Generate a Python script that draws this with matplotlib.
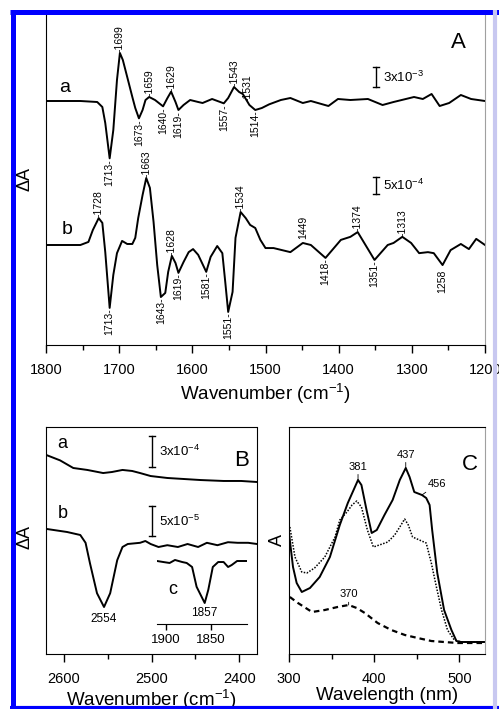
import numpy as np
import matplotlib
matplotlib.use('Agg')
import matplotlib.pyplot as plt
from matplotlib.lines import Line2D

plt.rcParams['font.family'] = ['Liberation Sans', 'DejaVu Sans']
plt.rcParams['mathtext.fontset'] = 'custom'
plt.rcParams['mathtext.rm'] = 'Liberation Sans'
plt.rcParams['mathtext.default'] = 'regular'

# ---- Panel A: FTIR difference spectra, 1800-1200 cm-1 ----
a_wn = [1800, 1753, 1730, 1723, 1719, 1713, 1708, 1703, 1699, 1695, 1689, 1682, 1678,
        1673, 1668, 1664, 1659, 1651, 1640, 1634, 1629, 1623, 1619, 1612, 1603, 1592,
        1586, 1573, 1557, 1551, 1543, 1536, 1531, 1522, 1514, 1505, 1495, 1479, 1466,
        1449, 1438, 1414, 1401, 1384, 1360, 1340, 1325, 1297, 1285, 1273, 1262, 1249,
        1233, 1219, 1200]
a_dA = [0, 0, -0.15, -0.9, -3.3, -8.6, -4.35, 3.15, 7.2, 6.15, 3.6, 0.6, -1.05,
        -2.6, -1.35, 0.15, 0.6, 0.15, -0.8, 0.45, 1.4, -0.15, -1.35, -0.6, 0.15, -0.15,
        -0.3, 0.3, -0.35, 0.45, 2.1, 1.35, 1.05, -0.6, -1.35, -1.05, -0.5, 0.15, 0.45,
        -0.3, 0, -0.75, 0.3, 0.15, 0.3, -0.6, -0.15, 0.6, 0.3, 1.05, -0.75, -0.3,
        0.9, 0.3, 0]  # x1e-3

b_wn = [1800, 1753, 1742, 1736, 1728, 1723, 1719, 1713, 1708, 1703, 1696, 1689, 1682,
        1678, 1674, 1668, 1663, 1658, 1653, 1648, 1643, 1637, 1633, 1628, 1623, 1619,
        1612, 1605, 1599, 1592, 1581, 1575, 1566, 1559, 1555, 1551, 1545, 1541, 1534,
        1527, 1521, 1514, 1507, 1500, 1489, 1466, 1449, 1438, 1418, 1397, 1384, 1374,
        1351, 1333, 1325, 1313, 1301, 1290, 1278, 1270, 1258, 1247, 1233, 1222, 1212, 1200]
b_dA = [0, 0, 0.9, 4.4, 7.9, 6.5, -2.1, -18.5, -8.8, -2.4, 1.2, 0.3, 0.3,
        2.1, 7.9, 14.7, 19.7, 16.8, 6.8, -5.9, -15.3, -14.1, -7.9, -3.2, -5.3, -8.2,
        -5.0, -2.1, -1.2, -2.9, -7.9, -3.5, -0.3, -2.4, -10.9, -19.7, -13.8, 2.1, 9.7,
        7.9, 5.9, 5.0, 1.5, -0.9, -0.9, -2.1, 0.6, 0, -3.8, 1.5, 2.4, 3.8,
        -4.4, 0, 0.6, 2.4, 0.6, -2.4, -2.1, -2.4, -5.9, -1.5, 0.3, -1.2, 1.8, 0]  # x1e-4

# band labels: (text value, position on the axis)
a_peaks = [(1699, 1699), (1659, 1659), (1629, 1629), (1543, 1543), (1531, 1525)]
a_mins = [(1713, 1713), (1673, 1673), (1640, 1640), (1619, 1619), (1557, 1557), (1514, 1514)]
b_peaks = [(1728, 1728), (1663, 1663), (1628, 1628), (1534, 1534), (1374, 1374), (1313, 1313)]
b_mins = [(1713, 1713), (1643, 1643), (1619, 1619), (1581, 1581), (1551, 1551),
          (1418, 1418), (1351, 1351)]
b_peaks_plain = [1449]
b_mins_plain = [1258]

# ---- Panel B: 2620-2380 cm-1 region + inset c ----
Ba_wn = [2619, 2604, 2589, 2573, 2561, 2555, 2545, 2533, 2522, 2513, 2501, 2482, 2463,
         2444, 2418, 2398, 2380]
Ba_dA = [2.6, 2.1, 1.36, 1.17, 0.97, 0.87, 0.97, 1.17, 1.07, 0.87, 0.58, 0.39, 0.29,
         0.19, 0.1, 0.1, 0]  # x1e-4
Bb_wn = [2619, 2596, 2581, 2575, 2570, 2562, 2554, 2547, 2539, 2533, 2527, 2513, 2507,
         2501, 2492, 2482, 2470, 2459, 2447, 2437, 2425, 2413, 2402, 2390, 2380]
Bb_dA = [2.5, 2.0, 1.5, 0.2, -3.2, -8.2, -10.5, -8.2, -2.7, -0.5, 0, 0.2, 0.5,
         0, -0.5, -0.2, -0.5, 0, -0.5, 0.2, -0.2, 0.3, 0.2, 0.2, 0]  # x1e-5
c_wn = [1910, 1903, 1896, 1890, 1882, 1877, 1871, 1866, 1857, 1853, 1848, 1842, 1836,
        1831, 1827, 1821, 1816, 1810]
c_dA = [0, -0.17, -0.33, 0.17, -0.17, -0.33, -1.0, -4.3, -7.0, -4.8, -1.0, -0.17, -0.17,
        -1.0, -0.67, 0, 0, 0]  # x1e-5

# ---- Panel C: UV-vis ----
solid_wl = [300, 304.7, 309, 315, 324.6, 336, 348, 359.6, 369, 381, 385, 391, 397, 403,
            412, 421.6, 430, 437, 441.5, 447, 456, 461, 465, 468, 474, 482, 490.6, 496.5,
            502, 530]
solid_A = [0.555, 0.385, 0.305, 0.26, 0.28, 0.335, 0.435, 0.595, 0.705, 0.82, 0.795, 0.67,
           0.555, 0.57, 0.645, 0.72, 0.82, 0.88, 0.835, 0.76, 0.745, 0.73, 0.695, 0.57,
           0.355, 0.17, 0.07, 0.015, 0.01, 0.01]
dot_wl = [301, 307, 315, 321, 330, 342, 354, 359.6, 368, 374, 379.5, 385, 392, 399, 406,
          416, 424, 430, 435.7, 440, 445, 453, 461, 467, 473, 479, 486, 494, 502, 530]
dot_A = [0.585, 0.435, 0.36, 0.355, 0.38, 0.435, 0.535, 0.62, 0.66, 0.695, 0.715, 0.685,
         0.57, 0.485, 0.495, 0.51, 0.545, 0.585, 0.625, 0.595, 0.535, 0.52, 0.505, 0.405,
         0.285, 0.17, 0.07, 0.02, 0.01, 0.01]
dash_wl = [301, 310.5, 327, 342, 357, 370, 379.5, 389, 404, 420, 436, 451, 467, 482, 498, 530]
dash_A = [0.235, 0.205, 0.16, 0.17, 0.185, 0.195, 0.18, 0.155, 0.105, 0.07, 0.045, 0.03,
          0.015, 0.01, 0.005, 0.005]

W, H = 499, 709
fig = plt.figure(figsize=(W / 100, H / 100), dpi=100)


def px_axes(l, t, r, b):
    return fig.add_axes([l / W, 1 - b / H, (r - l) / W, (b - t) / H])


def interp(x, xs, ys):
    xs = np.asarray(xs, float)
    ys = np.asarray(ys, float)
    order = np.argsort(xs)
    return np.interp(x, xs[order], ys[order])


LW = 1.4
TICKFS = 10.5
LBLFS = 7.5
TPAD = 7

# ---------------- Panel A ----------------
axA = px_axes(46, 13, 485, 345)
axA.set_xlim(1800, 1200)
axA.set_ylim(0, 332)
ya = 244 + 6.67 * np.array(a_dA)
yb = 100 + 3.4 * np.array(b_dA)
axA.plot(a_wn, ya, color='black', lw=LW)
axA.plot(b_wn, yb, color='black', lw=LW)


def band_label(ax, text, x, y, above, dy=0.5):
    ax.annotate(text, (x, y), xytext=(0, dy if above else -dy), textcoords='offset points',
                rotation=90, ha='center', va='bottom' if above else 'top', fontsize=LBLFS)


for v, pos in a_peaks:
    band_label(axA, '-%d' % v, pos, interp(pos, a_wn, ya), True)
for v, pos in a_mins:
    band_label(axA, '%d-' % v, pos, interp(pos, a_wn, ya), False)
for v, pos in b_peaks:
    band_label(axA, '-%d' % v, pos, interp(pos, b_wn, yb), True)
for v, pos in b_mins:
    band_label(axA, '%d-' % v, pos, interp(pos, b_wn, yb), False)
for v in b_peaks_plain:
    band_label(axA, '%d' % v, v, interp(v, b_wn, yb), True, dy=3)
for v in b_mins_plain:
    band_label(axA, '%d' % v, v, interp(v, b_wn, yb), False, dy=3)


def scalebar(ax, x, y0, length, cap, text, fs=9.5):
    ax.plot([x, x], [y0, y0 + length], color='black', lw=1)
    ax.plot([x - cap, x + cap], [y0, y0], color='black', lw=1)
    ax.plot([x - cap, x + cap], [y0 + length, y0 + length], color='black', lw=1)
    ax.text(x - 2.2 * cap, y0 + length / 2, text, ha='left', va='center', fontsize=fs)


scalebar(axA, 1349, 258, 6.67 * 3, 4.5, r'3x10$^{-3}$')
scalebar(axA, 1349, 151, 3.4 * 5, 4.5, r'5x10$^{-4}$')

axA.text(1774, 257, 'a', fontsize=14, ha='center', va='center')
axA.text(1771, 115, 'b', fontsize=14, ha='center', va='center')
axA.text(1237, 302, 'A', fontsize=16, ha='center', va='center')

axA.set_xticks([1800, 1700, 1600, 1500, 1400, 1300, 1200])
axA.set_xticks([1750, 1650, 1550, 1450, 1350, 1250], minor=True)
axA.set_yticks([])
axA.tick_params(axis='x', which='major', direction='out', length=6, width=1,
                labelsize=TICKFS, pad=TPAD)
axA.tick_params(axis='x', which='minor', direction='out', length=3.5, width=1)
axA.spines['top'].set_visible(False)
axA.spines['right'].set_color('#a0a0a0')
axA.set_xlabel(r'Wavenumber (cm$^{-1}$)', fontsize=13.5, labelpad=3.5)

# ---------------- Panel B ----------------
axB = px_axes(46, 427, 257, 654)
axB.set_xlim(2620, 2380)
axB.set_ylim(0, 227)
yBa = 172 + 10.3 * np.array(Ba_dA)
yBb = 110 + 6.0 * np.array(Bb_dA)
axB.plot(Ba_wn, yBa, color='black', lw=LW)
axB.plot(Bb_wn, yBb, color='black', lw=LW)
scalebar(axB, 2499, 187, 10.3 * 3, 3.5, r'3x10$^{-4}$')
scalebar(axB, 2499, 118, 6.0 * 5, 3.5, r'5x10$^{-5}$')
axB.text(2601, 211, 'a', fontsize=13, ha='center', va='center')
axB.text(2601, 141, 'b', fontsize=13, ha='center', va='center')
axB.text(2398, 194, 'B', fontsize=16, ha='center', va='center')
axB.annotate('2554', (2554, interp(2554, Bb_wn, yBb)), xytext=(0, -4), textcoords='offset points',
             ha='center', va='top', fontsize=8.5)
axB.set_xticks([2600, 2500, 2400])
axB.set_xticks([2550, 2450], minor=True)
axB.set_yticks([])
axB.tick_params(axis='x', which='major', direction='out', length=6, width=1,
                labelsize=TICKFS, pad=TPAD)
axB.tick_params(axis='x', which='minor', direction='out', length=3.5, width=1)
axB.spines['top'].set_linestyle((0, (1, 1)))
axB.spines['top'].set_linewidth(0.8)
axB.set_xlabel(r'Wavenumber (cm$^{-1}$)', fontsize=13.5, labelpad=1)

# inset c
axIn = px_axes(157, 550, 247, 624)
axIn.set_facecolor('none')
axIn.set_xlim(1910, 1810)
axIn.set_ylim(0, 74)
yc = 63 + 6.0 * np.array(c_dA)
axIn.plot(c_wn, yc, color='black', lw=LW)
axIn.annotate('1857', (1857, interp(1857, c_wn, yc)), xytext=(0, -3), textcoords='offset points',
              ha='center', va='top', fontsize=8.5)
axIn.text(1893, 34, 'c', fontsize=13, ha='center', va='center')
for s in ['top', 'left', 'right']:
    axIn.spines[s].set_visible(False)
axIn.spines['bottom'].set_linestyle((0, (1, 1)))
axIn.spines['bottom'].set_linewidth(0.8)
axIn.set_xticks([1900, 1850])
axIn.set_yticks([])
axIn.tick_params(axis='x', direction='out', length=4, width=1, labelsize=9.5, pad=3)

# ---------------- Panel C ----------------
axC = px_axes(289, 427, 485, 654)
axC.set_xlim(300, 530)
axC.set_ylim(-0.05, 1.085)
axC.plot(solid_wl, solid_A, color='black', lw=LW)
axC.plot(dot_wl, dot_A, color='black', lw=1.1, linestyle=(0, (1, 1)))
axC.plot(dash_wl, dash_A, color='black', lw=1.6, linestyle=(0, (2.5, 1.8)))
for w in [381, 437]:
    axC.annotate(str(w), (w, interp(w, solid_wl, solid_A)), xytext=(0, 6),
                 textcoords='offset points', ha='center', va='bottom', fontsize=8,
                 arrowprops=dict(arrowstyle='-', lw=0.6, shrinkA=0, shrinkB=0))
axC.annotate('456', (456, interp(456, solid_wl, solid_A)), xytext=(4, 4),
             textcoords='offset points', ha='left', va='bottom', fontsize=8,
             arrowprops=dict(arrowstyle='-', lw=0.6, shrinkA=0, shrinkB=0))
axC.annotate('370', (370, interp(370, dash_wl, dash_A)), xytext=(0, 4),
             textcoords='offset points', ha='center', va='bottom', fontsize=8,
             arrowprops=dict(arrowstyle='-', lw=0.6, shrinkA=0, shrinkB=0))
axC.text(512, 0.895, 'C', fontsize=16, ha='center', va='center')
axC.set_xticks([300, 400, 500])
axC.set_xticks([350, 450], minor=True)
axC.set_yticks([])
axC.tick_params(axis='x', which='major', direction='out', length=6, width=1,
                labelsize=TICKFS, pad=TPAD)
axC.tick_params(axis='x', which='minor', direction='out', length=3.5, width=1)
axC.spines['top'].set_linestyle((0, (1, 1)))
axC.spines['top'].set_linewidth(0.8)
axC.spines['right'].set_color('#a0a0a0')
axC.set_xlabel('Wavelength (nm)', fontsize=13.5, labelpad=1)

# y labels
fig.text(25 / W, 1 - 179 / H, '\u0394A', rotation=90, ha='center', va='center', fontsize=13)
fig.text(25 / W, 1 - 537 / H, '\u0394A', rotation=90, ha='center', va='center', fontsize=13)
fig.text(277 / W, 1 - 540 / H, 'A', rotation=90, ha='center', va='center', fontsize=13)


# blue frame
def fline(x0, y0, x1, y1, color, lw):
    fig.add_artist(Line2D([x0 / W, x1 / W], [1 - y0 / H, 1 - y1 / H], color=color, lw=lw,
                          transform=fig.transFigure, solid_capstyle='butt'))


fline(10, 11.5, W, 11.5, '#0000ff', 3.6)
fline(12.5, 9.5, 12.5, H, '#0000ff', 3.6)
fline(10, 707.5, W, 707.5, '#0000ff', 3.0)
fline(495, 9.5, 495, H, '#c8c8f0', 3.0)

fig.savefig('out.png', dpi=100, facecolor='white')
